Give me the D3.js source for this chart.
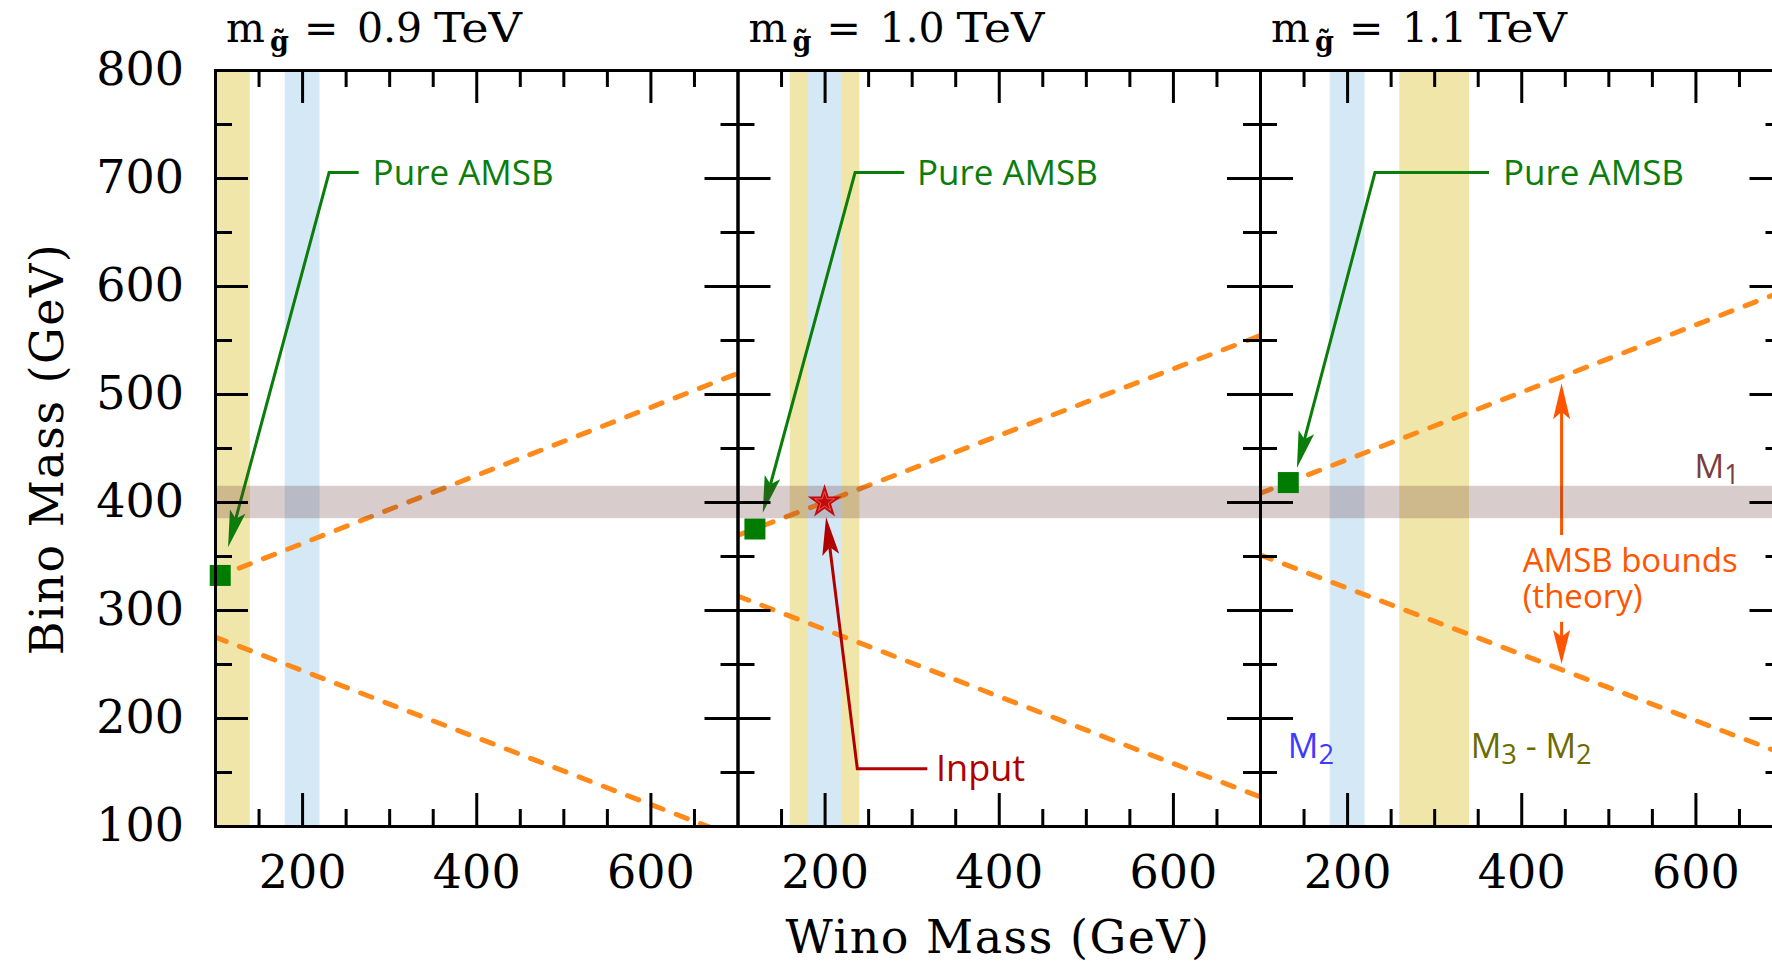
<!DOCTYPE html>
<html>
<head>
<meta charset="utf-8">
<script src="https://cdn.jsdelivr.net/npm/d3@7"></script>
<style>
  body { margin: 0; background: #fff; }
  svg { display: block; }
</style>
</head>
<body>
<svg id="chart" width="1772" height="963"></svg>
<script>
// ---- values ----
const gluinoMass = ["0.9", "1.0", "1.1"];          // TeV, one panel each
const xTickLabels = [200, 400, 600];
const yTickLabels = [100, 200, 300, 400, 500, 600, 700, 800];
const xMinorTicks = [150, 250, 300, 350, 450, 500, 550, 650];
const yMajorTicks = [200, 300, 400, 500, 600, 700];
const yMinorTicks = [150, 250, 350, 450, 550, 650, 750];

// pure-AMSB point (wino, bino) per gluino mass
const pureWino = [106, 120, 132.5];
const pureBino = [332, 375, 418];

// AMSB theory bounds: bino mass at wino = 100 and wino = 700
const upperBoundFrom = [330, 369, 408];
const upperBoundTo   = [519, 554, 595];
const lowerBoundFrom = [275, 313, 351];
const lowerBoundTo   = [89, 127, 167];

// constraint bands
const m2Band = [180, 220];
const m3m2Band = [[60, 140], [160, 240], [260, 340]];
const m1Band = [385, 415];

// input point (wino, bino), 1.0 TeV panel
const inputPoint = [200, 400];

// ---- layout ----
const svg = d3.select("#chart");
const plotTop = 70, plotBottom = 826, panelW = 522.5, left0 = 215;
const y = d3.scaleLinear().domain([100, 800]).range([plotBottom, plotTop]);
const panelX = gluinoMass.map((_, i) => d3.scaleLinear().domain([100, 700]).range([left0 + i * panelW, left0 + (i + 1) * panelW]));

const serif = "'DejaVu Serif', 'Liberation Serif', serif";
const sans = "'Open Sans', 'Noto Sans', sans-serif";

const C = {
  yellow: "#f0e6aa", blue: "#d5e8f6", m1: "rgba(100,50,50,0.25)",
  orange: "#ff8a1a", green: "#0b7d0b", square: "#007d00",
  red: "#b00000", star: "#c40a0a", amsb: "#ff5500",
  m1Text: "#7a3d3d", m2Text: "#3c3cff", m3Text: "#6b6b00"
};

const defs = svg.append("defs");
panelX.forEach((x, i) => {
  defs.append("clipPath").attr("id", "clip" + i)
    .append("rect").attr("x", x(100)).attr("y", plotTop).attr("width", panelW).attr("height", plotBottom - plotTop);
});

// arrow with a notched head, drawn along a polyline ending at its tip
function arrow(g, pts, color, width, headLen, headHalf) {
  const n = pts.length;
  const [tx, ty] = pts[n - 1], [px, py] = pts[n - 2];
  const a = Math.atan2(ty - py, tx - px), ux = Math.cos(a), uy = Math.sin(a);
  const nx = tx - ux * headLen * 0.8, ny = ty - uy * headLen * 0.8;
  const bx = tx - ux * headLen, by = ty - uy * headLen;
  const linePts = pts.slice(0, n - 1).concat([[nx, ny]]);
  g.append("path").attr("d", d3.line()(linePts)).attr("fill", "none")
    .attr("stroke", color).attr("stroke-width", width).attr("stroke-linejoin", "miter");
  g.append("path").attr("d", d3.line()([[tx, ty], [bx - uy * headHalf, by + ux * headHalf], [nx, ny], [bx + uy * headHalf, by - ux * headHalf]]) + "Z")
    .attr("fill", color);
}

const layerBands = svg.append("g");
const layerLines = svg.append("g");
const layerArrows = svg.append("g");
const layerM1 = svg.append("g");
const layerMarks = svg.append("g");
const layerAxes = svg.append("g");
const layerText = svg.append("g");

panelX.forEach((x, i) => {
  const clip = `url(#clip${i})`;
  // vertical bands
  const bands = layerBands.append("g").attr("clip-path", clip);
  bands.append("rect").attr("x", x(m3m2Band[i][0])).attr("width", x(m3m2Band[i][1]) - x(m3m2Band[i][0]))
    .attr("y", plotTop).attr("height", plotBottom - plotTop).attr("fill", C.yellow);
  bands.append("rect").attr("x", x(m2Band[0])).attr("width", x(m2Band[1]) - x(m2Band[0]))
    .attr("y", plotTop).attr("height", plotBottom - plotTop).attr("fill", C.blue);

  // AMSB bounds
  const lines = layerLines.append("g").attr("clip-path", clip);
  const line = d3.line().x(d => x(d[0])).y(d => y(d[1]));
  [[[100, upperBoundFrom[i]], [700, upperBoundTo[i]]], [[100, lowerBoundFrom[i]], [700, lowerBoundTo[i]]]].forEach(seg => {
    lines.append("path").attr("d", line(seg)).attr("fill", "none").attr("stroke", C.orange)
      .attr("stroke-width", 5).attr("stroke-dasharray", "12 14").attr("stroke-linecap", "round");
  });
});

// Pure AMSB callouts
const pureLabelX = [281, 306, 379];
const pureLeaderEnd = [265, 291.5, 363];
const pureElbowX = [231, 235, 232];
const pureTip = [[115, 358], [129, 390], [142.4, 431.5]];
panelX.forEach((x, i) => {
  arrow(layerArrows, [[x(pureLeaderEnd[i]), y(705)], [x(pureElbowX[i]), y(705)], [x(pureTip[i][0]), y(pureTip[i][1])]], C.green, 3, 37, 8);
  layerText.append("text").attr("x", x(pureLabelX[i])).attr("y", y(693.5))
    .attr("font-family", sans).attr("font-size", 35).attr("fill", C.green).text("Pure AMSB");
});

// Input callout
{
  const x = panelX[1];
  arrow(layerArrows, [[x(318), y(153)], [x(237.6), y(153)], [x(201.7), y(386)]], C.red, 3, 38, 8.5);
  layerText.append("text").attr("x", x(328)).attr("y", y(141.7))
    .attr("font-family", sans).attr("font-size", 36).attr("fill", C.red).text("Input");
}

// AMSB bounds callout (two-line label)
{
  const x = panelX[2];
  arrow(layerArrows, [[x(446.3), y(369.4)], [x(446.3), y(510)]], C.amsb, 3, 36, 8.5);
  arrow(layerArrows, [[x(446.3), y(289)], [x(446.3), y(250)]], C.amsb, 3, 34, 8.5);
  const t = layerText.append("text").attr("y", y(335))
    .attr("font-family", sans).attr("font-size", 33).attr("fill", C.amsb);
  t.append("tspan").attr("x", x(401.6)).text("AMSB bounds");
  t.append("tspan").attr("x", x(401.6)).attr("dy", y(301.5) - y(335)).text("(theory)");
}

// M1 band across all panels
layerM1.append("rect").attr("x", panelX[0](100)).attr("width", panelX[2](700) - panelX[0](100))
  .attr("y", y(m1Band[1])).attr("height", y(m1Band[0]) - y(m1Band[1])).attr("fill", C.m1);

// pure AMSB squares
panelX.forEach((x, i) => {
  layerMarks.append("rect").attr("x", x(pureWino[i]) - 10.5).attr("y", y(pureBino[i]) - 10.5)
    .attr("width", 21).attr("height", 21).attr("fill", C.square);
});

// input star
{
  const x = panelX[1];
  const g = layerMarks.append("g").attr("transform", `translate(${x(inputPoint[0])},${y(inputPoint[1])})`);
  g.append("path").attr("d", d3.symbol(d3.symbolStar, 360)()).attr("fill", C.star);
  g.append("path").attr("d", d3.symbol(d3.symbolStar, 120)()).attr("fill", "none")
    .attr("stroke", "#e46a6a").attr("stroke-width", 0.8);
}

// axes: frame lines with inward ticks
panelX.forEach((x, i) => {
  const x0 = x(100), x1 = x(700);
  const style = g => {
    g.selectAll("path.domain").attr("stroke", "#000").attr("stroke-width", 3).attr("stroke-linecap", "square");
    g.selectAll(".tick line").attr("stroke", "#000").attr("stroke-width", 3);
  };
  const noDomain = g => g.select("path.domain").remove();

  layerAxes.append("g").attr("transform", `translate(${x0},0)`)
    .call(d3.axisRight(y).tickValues(yMajorTicks).tickSize(33).tickSizeOuter(0).tickFormat("")).call(style);
  layerAxes.append("g").attr("transform", `translate(${x0},0)`)
    .call(d3.axisRight(y).tickValues(yMinorTicks).tickSize(17).tickFormat("")).call(noDomain).call(style);
  layerAxes.append("g").attr("transform", `translate(${x1},0)`)
    .call(d3.axisLeft(y).tickValues(yMajorTicks).tickSize(33).tickSizeOuter(0).tickFormat("")).call(style);
  layerAxes.append("g").attr("transform", `translate(${x1},0)`)
    .call(d3.axisLeft(y).tickValues(yMinorTicks).tickSize(17).tickFormat("")).call(noDomain).call(style);

  layerAxes.append("g").attr("transform", `translate(0,${plotBottom})`)
    .call(d3.axisTop(x).tickValues(xTickLabels).tickSize(33).tickSizeOuter(0).tickFormat("")).call(style);
  layerAxes.append("g").attr("transform", `translate(0,${plotBottom})`)
    .call(d3.axisTop(x).tickValues(xMinorTicks).tickSize(17).tickFormat("")).call(noDomain).call(style);
  layerAxes.append("g").attr("transform", `translate(0,${plotTop})`)
    .call(d3.axisBottom(x).tickValues(xTickLabels).tickSize(33).tickSizeOuter(0).tickFormat("")).call(style);
  layerAxes.append("g").attr("transform", `translate(0,${plotTop})`)
    .call(d3.axisBottom(x).tickValues(xMinorTicks).tickSize(17).tickFormat("")).call(noDomain).call(style);

  // x tick labels
  layerAxes.append("g").attr("transform", `translate(0,${plotBottom})`)
    .call(d3.axisBottom(x).tickValues(xTickLabels).tickSize(0).tickPadding(29.5).tickFormat(d3.format("d")))
    .call(noDomain)
    .call(g => g.selectAll("text").attr("font-family", serif).attr("font-size", 46).attr("fill", "#000"));

  // panel title: m_g~ = <mass> TeV
  const t = layerText.append("text").attr("y", 42)
    .attr("font-family", serif).attr("font-size", 41).attr("fill", "#000");
  t.append("tspan").attr("x", x0 + 11).text("m");
  t.append("tspan").attr("x", x0 + 55).attr("font-size", 27).attr("font-weight", "bold").attr("dy", 9).text("g\u0303");
  t.append("tspan").attr("x", x0 + 89).attr("dy", -9).text("=");
  t.append("tspan").attr("x", x0 + 142).text(gluinoMass[i]);
  t.append("tspan").attr("x", x0 + 219).attr("textLength", 88).attr("lengthAdjust", "spacingAndGlyphs").text("TeV");
});

// y tick labels
layerAxes.append("g").attr("transform", `translate(${panelX[0](100)},0)`)
  .call(d3.axisLeft(y).tickValues(yTickLabels).tickSize(0).tickPadding(31).tickFormat(d3.format("d")))
  .call(g => g.select("path.domain").remove())
  .call(g => g.selectAll("text").attr("font-family", serif).attr("font-size", 46).attr("fill", "#000"));

// axis titles
layerText.append("text").attr("x", 998).attr("y", 953).attr("text-anchor", "middle")
  .attr("font-family", serif).attr("font-size", 46).attr("letter-spacing", 1.5).text("Wino Mass (GeV)");
layerText.append("text").attr("transform", "translate(63,449) rotate(-90)").attr("text-anchor", "middle")
  .attr("font-family", serif).attr("font-size", 46).attr("letter-spacing", 1.5).text("Bino Mass (GeV)");

// band labels
function subLabel(x, yy, main, sub, rest, color, size) {
  const t = layerText.append("text").attr("x", x).attr("y", yy).attr("font-family", sans)
    .attr("font-size", size).attr("fill", color);
  t.append("tspan").text(main);
  t.append("tspan").attr("font-size", size * 0.8).attr("dy", 6).text(sub);
  if (rest) {
    t.append("tspan").attr("dy", -6).text(rest[0]);
    t.append("tspan").attr("font-size", size * 0.8).attr("dy", 6).text(rest[1]);
  }
}
subLabel(panelX[2](598.9), y(422), "M", "1", null, C.m1Text, 33);
subLabel(panelX[2](132), y(163), "M", "2", null, C.m2Text, 34);
subLabel(panelX[2](342), y(163), "M", "3", [" - M", "2"], C.m3Text, 34);
</script>
</body>
</html>
